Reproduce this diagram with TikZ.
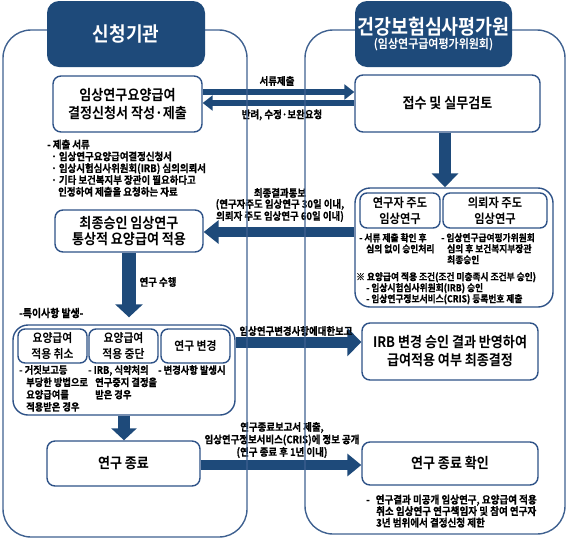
\documentclass[tikz,border=0pt]{standalone}
\usepackage{fontspec}
\newfontfamily\kb[FakeStretch=0.9]{Noto Sans CJK KR Bold}
\newfontfamily\kbb[FakeStretch=0.9,FakeBold=0.5]{Noto Sans CJK KR Bold}
\usetikzlibrary{arrows.meta,calc}
\definecolor{navy}{HTML}{1E4A7A}
\definecolor{boxline}{HTML}{2E5287}
\definecolor{panelline}{HTML}{3F6190}
\tikzset{
  panel/.style={draw=panelline, line width=1.4pt, rounded corners=28pt, inner sep=0pt},
  box/.style={draw=boxline, line width=1.4pt, rounded corners=8pt, fill=white, align=center, inner sep=0pt, font=\kb\fontsize{14.5}{18}\selectfont},
  ibox/.style={box, rounded corners=7pt, font=\kb\fontsize{12.5}{16}\selectfont},
  titlebox/.style={fill=navy, rounded corners=12pt, text=white, align=center, inner sep=0pt},
  note/.style={align=left, inner sep=0pt, anchor=north west, font=\kbb\fontsize{10.5}{11.8}\selectfont},
  snote/.style={note, font=\kbb\fontsize{9.7}{11}\selectfont},
  lab/.style={align=center, inner sep=0pt, font=\kbb\fontsize{10.5}{11}\selectfont},
  arr/.style n args={3}{draw=navy, line width=#1, -{Triangle[length=#2, width=#3]}}
}
\begin{document}
\begin{tikzpicture}[x=1pt,y=-1pt]
\useasboundingbox (0,0) rectangle (567,539);

% boxes
\node[box, minimum width=149pt, minimum height=56pt] (b1) at (127.5,104) {임상연구요양급여\\결정신청서 작성·제출};
\node[box, minimum width=185pt, minimum height=57pt] (b2) at (447.5,103.5) {접수 및 실무검토};
\node[box, minimum width=148pt, minimum height=42pt, font=\kb\fontsize{14.5}{16}\selectfont] (b3) at (129,231) {최종승인 임상연구\\통상적 요양급여 적용};

\node[box, rounded corners=15pt, minimum width=198pt, minimum height=119pt] (grp) at (454,247.5) {};
\node[ibox, minimum width=80pt, minimum height=35pt] (g1) at (400,210.5) {연구자 주도\\임상연구};
\node[ibox, minimum width=104pt, minimum height=35pt] (g2) at (495,210.5) {의뢰자 주도\\임상연구};

\node[box, rounded corners=15pt, minimum width=222pt, minimum height=90pt] (grp2) at (124,370) {};
\node[ibox, minimum width=69pt, minimum height=34pt, font=\kb\fontsize{12}{16}\selectfont] (h1) at (52.5,346) {요양급여\\적용 취소};
\node[ibox, minimum width=69pt, minimum height=34pt, font=\kb\fontsize{12}{16}\selectfont] (h2) at (123.5,346) {요양급여\\적용 중단};
\node[ibox, minimum width=69pt, minimum height=34pt, font=\kb\fontsize{12}{16}\selectfont] (h3) at (195.5,346) {연구 변경};

\node[box, minimum width=176pt, minimum height=57pt] (irb) at (450,351.5) {IRB 변경 승인 결과 반영하여\\급여적용 여부 최종결정};
\node[box, minimum width=153pt, minimum height=45pt] (b4) at (123.5,463.5) {연구 종료};
\node[box, minimum width=176pt, minimum height=43pt] (b5) at (450,463.5) {연구 종료 확인};

% notes
\node[note] (n1) at (47,139.5) {- 제출 서류\\\hspace{4pt}· 임상연구요양급여결정신청서\\\hspace{4pt}· 임상시험심사위원회(IRB) 심의의뢰서\\\hspace{4pt}· 기타 보건복지부 장관이 필요하다고\\\hspace{11pt}인정하여 제출을 요청하는 자료};
\node[snote] (n2) at (359,233) {- 서류 제출 확인 후\\\hspace{7pt}심의 없이 승인처리};
\node[snote] (n3) at (441,233) {- 임상연구급여평가위원회\\\hspace{6pt}심의 후 보건복지부장관\\\hspace{6pt}최종승인};
\node[snote] (n4) at (356,272) {※ 요양급여 적용 조건(조건 미충족시 조건부 승인)\\\hspace{10pt}- 임상시험심사위원회(IRB) 승인\\\hspace{10pt}- 임상연구정보서비스(CRIS) 등록번호 제출};
\node[note, font=\kbb\fontsize{10.3}{12.3}\selectfont] (n5) at (19,365) {- 거짓보고등\\\hspace{7pt}부당한 방법으로\\\hspace{7pt}요양급여를\\\hspace{7pt}적용받은 경우};
\node[note, font=\kbb\fontsize{10.3}{12.3}\selectfont] (n6) at (88,365) {- IRB, 식약처의\\\hspace{7pt}연구중지 결정을\\\hspace{7pt}받은 경우};
\node[note, font=\kbb\fontsize{10.3}{12.3}\selectfont] (n7) at (158,365) {- 변경사항 발생시};
\node[note, font=\kbb\fontsize{10.6}{11.5}\selectfont] (n8) at (366,494.5) {-\hspace{6pt}연구결과 미공개 임상연구, 요양급여 적용\\\hspace{10pt}취소 임상연구 연구책임자 및 참여 연구자\\\hspace{10pt}3년 범위에서 결정신청 제한};

% arrows
\draw[arr={6pt}{10pt}{15pt}] (b1.east |- 0,92) -- (b2.west |- 0,92);
\draw[arr={6pt}{10pt}{15pt}] (b2.west |- 0,103) -- (b1.east |- 0,103);
\draw[arr={12pt}{14pt}{26pt}] (b2.south -| 445,0) -- (grp.north -| 445,0);
\draw[arr={10pt}{15pt}{23pt}] (grp.west |- 0,232) -- (b3.east |- 0,232);
\draw[arr={14pt}{13pt}{27pt}, shorten >=7pt] (b3.south) -- (b3.south |- grp2.north);
\draw[arr={11pt}{14pt}{28pt}] (grp2.east |- 0,342) -- (irb.west |- 0,342);
\draw[arr={12pt}{12pt}{25pt}] (grp2.south) -- (grp2.south |- b4.north);
\draw[arr={10pt}{14pt}{22pt}] (b4.east |- 0,465) -- (b5.west |- 0,465);

% labels
\node[lab] (l1) at (277,81) {서류제출};
\node[lab] (l2) at (282,115) {반려, 수정·보완요청};
\node[lab] (l3) at (280,205) {최종결과통보\\(연구자주도 임상연구 30일 이내,\\의뢰자 주도 임상연구 60일 이내)};
\node[lab] (l4) at (158,282) {연구 수행};
\node[lab, anchor=west, font=\kbb\fontsize{11}{12}\selectfont] (l5) at (19,313) {-특이사항 발생-};
\node[lab] (l6) at (296,331) {임상연구변경사항에대한보고};
\node[lab, font=\kbb\fontsize{10.5}{12.5}\selectfont] (l7) at (282,440) {연구종료보고서 제출,\\임상연구정보서비스(CRIS)에 정보 공개\\(연구 종료 후 1년 이내)};

% panels
\node[panel, minimum width=244pt, minimum height=507pt] (lp) at (125,283.5) {};
\node[panel, minimum width=260pt, minimum height=504pt] (rp) at (435,282) {};

% titles
\node[titlebox, minimum width=158pt, minimum height=66pt, font=\kb\fontsize{20}{24}\selectfont] (t1) at (126,34) {신청기관};
\node[titlebox, minimum width=157pt, minimum height=66pt] (t2) at (433.5,34) {};
\node[text=white, inner sep=0pt, font=\kb\fontsize{20.5}{24}\selectfont] (t2a) at (433.5,27) {건강보험심사평가원};
\node[text=white, inner sep=0pt, font=\kb\fontsize{12.2}{14}\selectfont] (t2b) at (433.5,45) {(임상연구급여평가위원회)};
\end{tikzpicture}
\end{document}
